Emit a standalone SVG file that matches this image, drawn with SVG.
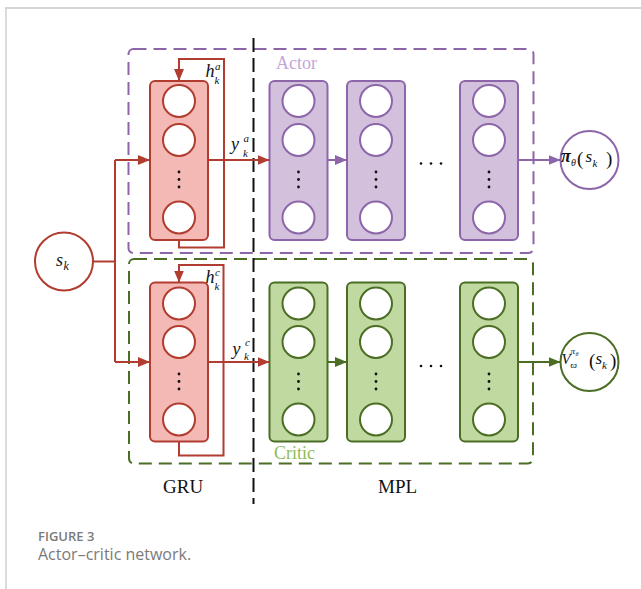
<svg xmlns="http://www.w3.org/2000/svg" width="641" height="589" viewBox="0 0 641 589">
<defs>
<style>
.red{stroke:#b13c30;stroke-width:2;fill:none}
.pur{stroke:#8d66a9;stroke-width:2;fill:none}
.grn{stroke:#4b6e24;stroke-width:2;fill:none}
.gru{fill:#f4b9b5;stroke:#b13c30;stroke-width:2}
.mlpA{fill:#d2c0dc;stroke:#8d66a9;stroke-width:2}
.mlpC{fill:#bfd9a0;stroke:#4b6e24;stroke-width:2}
.cr{fill:#fff;stroke:#b13c30;stroke-width:2}
.cp{fill:#fff;stroke:#8d66a9;stroke-width:2}
.cg{fill:#fff;stroke:#4b6e24;stroke-width:2}
.dot{fill:#111}
.m{font-family:"Liberation Serif","Times New Roman",serif;font-style:italic;fill:#111}
.lbl{font-family:"Liberation Serif","Times New Roman",serif;fill:#111}
.cap{font-family:"Open Sans","Noto Sans",sans-serif;fill:#7a7a7a}
</style>
<marker id="aR" markerUnits="userSpaceOnUse" markerWidth="13" markerHeight="11" refX="12" refY="5" orient="auto"><path d="M0,0 L12,5 L0,10 z" fill="#b13c30"/></marker>
<marker id="aP" markerUnits="userSpaceOnUse" markerWidth="13" markerHeight="11" refX="12" refY="5" orient="auto"><path d="M0,0 L12,5 L0,10 z" fill="#8d66a9"/></marker>
<marker id="aG" markerUnits="userSpaceOnUse" markerWidth="13" markerHeight="11" refX="12" refY="5" orient="auto"><path d="M0,0 L12,5 L0,10 z" fill="#4b6e24"/></marker>
</defs>
<rect width="641" height="589" fill="#fff"/>
<!-- frame -->
<line x1="5" y1="8" x2="641" y2="8" stroke="#d6d6d6" stroke-width="2"/>
<line x1="6" y1="8" x2="6" y2="589" stroke="#cfcfcf" stroke-width="1.5"/>

<!-- group boxes -->
<g id="actor-box">
<rect x="128.5" y="49" width="405" height="204" rx="5" class="pur" stroke-dasharray="13 7"/>
<text class="lbl" x="276" y="69" font-size="18" style="fill:#c4a6d9">Actor</text>
</g>
<g id="critic-box">
<rect x="129" y="259" width="404" height="204.5" rx="5" class="grn" stroke-dasharray="13 7"/>
<text class="lbl" x="274" y="458.5" font-size="18" style="fill:#8dbd58">Critic</text>
</g>
<g id="divider">
<line x1="253.5" y1="38" x2="253.5" y2="504" stroke="#111" stroke-width="2" stroke-dasharray="14 6"/>
</g>

<!-- nodes -->
<g id="sk">
<circle cx="64" cy="261.5" r="29" class="cr"/>
<text class="m" x="56" y="265.5" font-size="18">s</text><text class="m" x="63.5" y="270" font-size="12">k</text>
</g>

<g id="gru-actor">
<rect x="150" y="81" width="58" height="159" rx="5" class="gru"/>
<circle cx="179" cy="101" r="16" class="cr"/>
<circle cx="179" cy="140" r="16" class="cr"/>
<circle cx="179" cy="217.5" r="16" class="cr"/>
<circle cx="179" cy="172" r="1.4" class="dot"/><circle cx="179" cy="179.5" r="1.4" class="dot"/><circle cx="179" cy="187" r="1.4" class="dot"/>
</g>
<g id="gru-critic">
<rect x="150" y="282.5" width="58" height="159" rx="5" class="gru"/>
<circle cx="179" cy="303.5" r="16" class="cr"/>
<circle cx="179" cy="342" r="16" class="cr"/>
<circle cx="179" cy="419.5" r="16" class="cr"/>
<circle cx="179" cy="374" r="1.4" class="dot"/><circle cx="179" cy="381.5" r="1.4" class="dot"/><circle cx="179" cy="389" r="1.4" class="dot"/>
</g>

<g id="actor-mlp1">
<rect x="269.5" y="81" width="58" height="159" rx="5" class="mlpA"/>
<circle cx="298.5" cy="101" r="16" class="cp"/><circle cx="298.5" cy="140" r="16" class="cp"/><circle cx="298.5" cy="217.5" r="16" class="cp"/>
<circle cx="298.5" cy="172" r="1.4" class="dot"/><circle cx="298.5" cy="179.5" r="1.4" class="dot"/><circle cx="298.5" cy="187" r="1.4" class="dot"/>
</g>
<g id="actor-mlp2">
<rect x="347" y="81" width="58" height="159" rx="5" class="mlpA"/>
<circle cx="376" cy="101" r="16" class="cp"/><circle cx="376" cy="140" r="16" class="cp"/><circle cx="376" cy="217.5" r="16" class="cp"/>
<circle cx="376" cy="172" r="1.4" class="dot"/><circle cx="376" cy="179.5" r="1.4" class="dot"/><circle cx="376" cy="187" r="1.4" class="dot"/>
</g>
<g id="actor-mlp3">
<rect x="460" y="81" width="58" height="159" rx="5" class="mlpA"/>
<circle cx="489" cy="101" r="16" class="cp"/><circle cx="489" cy="140" r="16" class="cp"/><circle cx="489" cy="217.5" r="16" class="cp"/>
<circle cx="489" cy="172" r="1.4" class="dot"/><circle cx="489" cy="179.5" r="1.4" class="dot"/><circle cx="489" cy="187" r="1.4" class="dot"/>
</g>
<g id="actor-ellipsis">
<circle cx="421" cy="163.5" r="1.3" class="dot"/><circle cx="431" cy="163.5" r="1.3" class="dot"/><circle cx="441" cy="163.5" r="1.3" class="dot"/>
</g>

<g id="critic-mlp1">
<rect x="269.5" y="282.5" width="58" height="159" rx="5" class="mlpC"/>
<circle cx="298.5" cy="303.5" r="16" class="cg"/><circle cx="298.5" cy="342" r="16" class="cg"/><circle cx="298.5" cy="419.5" r="16" class="cg"/>
<circle cx="298.5" cy="374" r="1.4" class="dot"/><circle cx="298.5" cy="381.5" r="1.4" class="dot"/><circle cx="298.5" cy="389" r="1.4" class="dot"/>
</g>
<g id="critic-mlp2">
<rect x="347" y="282.5" width="58" height="159" rx="5" class="mlpC"/>
<circle cx="376" cy="303.5" r="16" class="cg"/><circle cx="376" cy="342" r="16" class="cg"/><circle cx="376" cy="419.5" r="16" class="cg"/>
<circle cx="376" cy="374" r="1.4" class="dot"/><circle cx="376" cy="381.5" r="1.4" class="dot"/><circle cx="376" cy="389" r="1.4" class="dot"/>
</g>
<g id="critic-mlp3">
<rect x="460" y="282.5" width="58" height="159" rx="5" class="mlpC"/>
<circle cx="489" cy="303.5" r="16" class="cg"/><circle cx="489" cy="342" r="16" class="cg"/><circle cx="489" cy="419.5" r="16" class="cg"/>
<circle cx="489" cy="374" r="1.4" class="dot"/><circle cx="489" cy="381.5" r="1.4" class="dot"/><circle cx="489" cy="389" r="1.4" class="dot"/>
</g>
<g id="critic-ellipsis">
<circle cx="421" cy="366" r="1.3" class="dot"/><circle cx="431" cy="366" r="1.3" class="dot"/><circle cx="441" cy="366" r="1.3" class="dot"/>
</g>

<g id="policy-out">
<circle cx="589.5" cy="160" r="29" class="cp"/>
<text class="m" x="561" y="162" font-size="18" font-weight="bold">π</text>
<text class="m" x="571" y="166" font-size="10">θ</text>
<text class="lbl" x="577" y="165" font-size="19">(</text>
<text class="m" x="585.5" y="162" font-size="17">s</text>
<text class="m" x="592.5" y="166.5" font-size="11">k</text>
<text class="lbl" x="606" y="165" font-size="19">)</text>
</g>
<g id="value-out">
<circle cx="589.5" cy="362" r="29" class="cg"/>
<text class="m" x="561.5" y="364" font-size="15">V</text>
<text class="m" x="570.5" y="368" font-size="9">ϖ</text>
<text class="m" x="570.5" y="353.5" font-size="9">π</text>
<text class="m" x="575.5" y="355.5" font-size="6">θ</text>
<text class="lbl" x="589" y="367" font-size="19">(</text>
<text class="m" x="595.5" y="364" font-size="17">s</text>
<text class="m" x="602" y="368.5" font-size="11">k</text>
<text class="lbl" x="610" y="367" font-size="19">)</text>
</g>

<!-- connectors -->
<g id="connectors">
<path class="red" d="M93 261.5 H115"/>
<path class="red" d="M115 160 V362"/>
<path class="red" d="M115 160 H150" marker-end="url(#aR)"/>
<path class="red" d="M115 362 H150" marker-end="url(#aR)"/>
<path class="red" d="M208 160 H269.5" marker-end="url(#aR)"/>
<path class="red" d="M208 362 H269.5" marker-end="url(#aR)"/>
<path class="red" d="M179 240 V247.5 H224 V59 H179 V81" marker-end="url(#aR)"/>
<path class="red" d="M179 441.5 V455.5 H223.5 V265 H179 V282.5" marker-end="url(#aR)"/>
<path class="pur" d="M327.5 160 H347" marker-end="url(#aP)"/>
<path class="pur" d="M518 160 H560.5" marker-end="url(#aP)"/>
<path class="grn" d="M327.5 362 H347" marker-end="url(#aG)"/>
<path class="grn" d="M518 362 H560.5" marker-end="url(#aG)"/>
</g>

<!-- connector labels -->
<g id="labels">
<text class="m" x="205.5" y="77" font-size="18">h</text><text class="m" x="215" y="69.5" font-size="11">a</text><text class="m" x="214.5" y="84" font-size="11">k</text>
<text class="m" x="231" y="150" font-size="18">y</text><text class="m" x="243.5" y="141.5" font-size="11">a</text><text class="m" x="243" y="157" font-size="11">k</text>
<text class="m" x="205.5" y="283" font-size="18">h</text><text class="m" x="215" y="275.5" font-size="11">c</text><text class="m" x="214.5" y="290" font-size="11">k</text>
<text class="m" x="232.5" y="355" font-size="18">y</text><text class="m" x="245" y="346" font-size="11">c</text><text class="m" x="244" y="360" font-size="11">k</text>
</g>

<text class="lbl" x="163" y="493" font-size="19">GRU</text>
<text class="lbl" x="378" y="493" font-size="19">MPL</text>

<text class="cap" x="38" y="540.5" font-size="13" font-weight="600">FIGURE 3</text>
<text class="cap" x="38" y="560" font-size="16">Actor–critic network.</text>
</svg>
